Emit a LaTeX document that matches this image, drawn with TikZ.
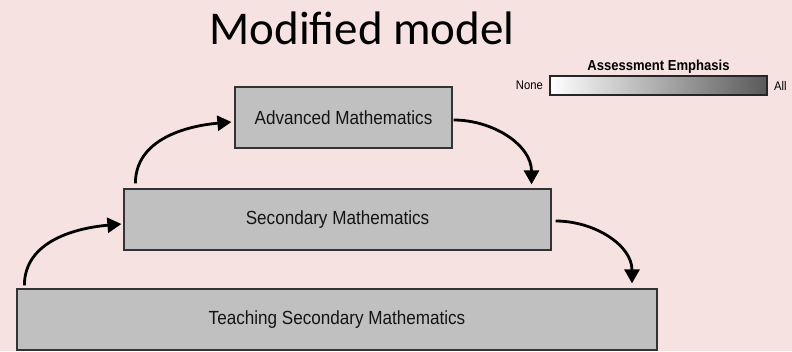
\documentclass[tikz,border=0pt]{standalone}
\usepackage{fontspec}
\setmainfont{Liberation Sans}[FakeStretch=0.9]
\newfontfamily\titlefont{Carlito}
\usetikzlibrary{arrows.meta}
\definecolor{bgpink}{RGB}{245,226,225}
\definecolor{boxgray}{RGB}{192,192,192}
\tikzstyle{level}=[draw=black!80,line width=1.2pt,fill=boxgray,minimum height=61pt,inner sep=0pt,font=\fontsize{19}{22}\selectfont,text=black!92]
\tikzstyle{flow}=[line width=2.8pt,-{Triangle[length=14pt,width=15pt]}]

\begin{document}
\begin{tikzpicture}[x=1pt,y=-1pt]
\fill[bgpink] (0,0) rectangle (792,351);
\useasboundingbox (0,0) rectangle (792,351);
\node[font=\titlefont\fontsize{47}{50}\selectfont] (title) at (362,28) {Modified model};
% the three levels
  \node[level,minimum width=217pt] (adv) at (343.5,117.5) {Advanced Mathematics};
  \node[level,minimum width=427pt] (sec) at (337.5,219.5) {Secondary Mathematics};
  \node[level,minimum width=640pt] (teach) at (337,319.5) {Teaching Secondary Mathematics};
% legend
  \node[draw=black!85,line width=1.2pt,minimum width=217pt,minimum height=19pt,inner sep=0pt,left color=white,right color=black!65] (bar) at (658.5,85.5) {};
  \node[anchor=east,font=\fontsize{12.5}{14}\selectfont] (none) at ([xshift=-3pt]bar.west) {None};
  \node[anchor=west,font=\fontsize{12.5}{14}\selectfont] (all) at ([xshift=3pt]bar.east) {All};
  \node[anchor=south,font=\bfseries\fontsize{14.5}{16}\selectfont] (emph) at ([yshift=-2pt]bar.north) {Assessment Emphasis};
% arrows
\draw[flow] ([xshift=8pt,yshift=3pt]teach.north west) to[out=90,in=185] ([xshift=-2pt,yshift=-4.5pt]sec.west);
\draw[flow] ([xshift=12pt,yshift=5pt]sec.north west) to[out=90,in=185] ([xshift=-3pt,yshift=-4.5pt]adv.west);
\draw[flow] ([xshift=1pt,yshift=-2.5pt]adv.east) to[out=0,in=90] ([xshift=194pt,yshift=4pt]sec.north);
\draw[flow] ([xshift=4pt,yshift=-1.5pt]sec.east) to[out=0,in=90] ([xshift=295pt,yshift=5pt]teach.north);
\end{tikzpicture}
\end{document}
